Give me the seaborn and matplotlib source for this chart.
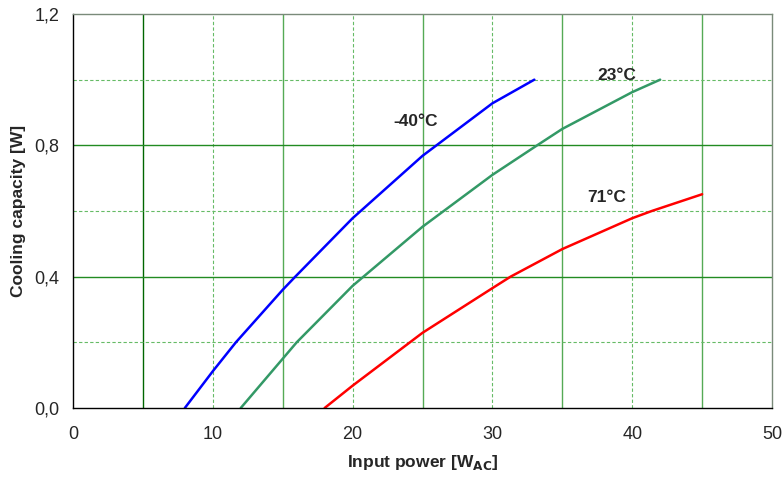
import matplotlib
matplotlib.use("Agg")
import matplotlib.pyplot as plt
import seaborn as sns
import pandas as pd
from matplotlib.ticker import FuncFormatter

sns.set_style("white")
plt.rcParams['font.family'] = ['Liberation Sans', 'DejaVu Sans']

# Data
x_m40 = [8, 10, 11.65, 15, 15.9, 20, 25, 26, 30, 33]
y_m40 = [0.0, 0.112, 0.2, 0.36, 0.4, 0.578, 0.768, 0.8, 0.928, 1.0]
x_23 = [12, 15, 16, 20, 25, 30, 33.2, 35, 40, 42]
y_23 = [0.0, 0.15, 0.2, 0.372, 0.552, 0.71, 0.8, 0.85, 0.962, 1.0]
x_71 = [18, 20, 25, 30, 31.3, 35, 40, 41.4, 45]
y_71 = [0.0, 0.068, 0.229, 0.365, 0.4, 0.484, 0.578, 0.6, 0.651]
series_names = ["-40°C", "23°C", "71°C"]
series_colors = ["#0000FF", "#339966", "#FF0000"]
label_pos = [(24.5, 0.874), (38.9, 1.014), (38.2, 0.64)]

df = pd.concat([
    pd.DataFrame({"x": x_m40, "y": y_m40, "s": series_names[0]}),
    pd.DataFrame({"x": x_23, "y": y_23, "s": series_names[1]}),
    pd.DataFrame({"x": x_71, "y": y_71, "s": series_names[2]}),
])

fig = plt.figure(figsize=(7.83, 4.80), dpi=100)
ax = fig.add_axes([73/783, 72/480, (772-73)/783, (408-14)/480])

# grid
for xv in [10, 20, 30, 40]:
    ax.axvline(xv, color="#66bb66", lw=0.8, ls=(0, (3, 2)), zorder=0)
for xv in [5, 15, 25, 35, 45]:
    ax.axvline(xv, color="#006600" if xv == 5 else "#55aa55", lw=1.0, zorder=0)
for yv in [0.2, 0.6, 1.0]:
    ax.axhline(yv, color="#66bb66", lw=0.8, ls=(0, (3, 2)), zorder=0)
for yv in [0.4, 0.8]:
    ax.axhline(yv, color="#228B22", lw=1.0, zorder=0)

sns.lineplot(data=df, x="x", y="y", hue="s", palette=dict(zip(series_names, series_colors)),
             lw=1.8, legend=False, ax=ax, estimator=None, sort=True)

for name, (tx, ty) in zip(series_names, label_pos):
    ax.text(tx, ty, name, ha="center", va="center", fontsize=12.5, fontweight="bold")

ax.set_xlim(0, 50)
ax.set_ylim(0, 1.2)
ax.set_xticks([0, 10, 20, 30, 40, 50])
ax.set_yticks([0.0, 0.4, 0.8, 1.2])
ax.yaxis.set_major_formatter(FuncFormatter(lambda v, p: f"{v:.1f}".replace(".", ",")))
ax.tick_params(axis="both", direction="out", length=5, width=1, color="black", labelsize=13)
ax.tick_params(axis="x", pad=8)
ax.tick_params(axis="y", pad=5)
ax.set_xlabel("Input power [W$_{\\mathbf{AC}}$]", fontsize=12.5, fontweight="bold", labelpad=7)
ax.set_ylabel("Cooling capacity [W]", fontsize=12.5, fontweight="bold", labelpad=6)

for side in ["left", "bottom"]:
    ax.spines[side].set_color("black")
    ax.spines[side].set_linewidth(1.0)
for side in ["top", "right"]:
    ax.spines[side].set_color("#7a8a7a")
    ax.spines[side].set_linewidth(1.0)

fig.savefig("out.png", dpi=100)
